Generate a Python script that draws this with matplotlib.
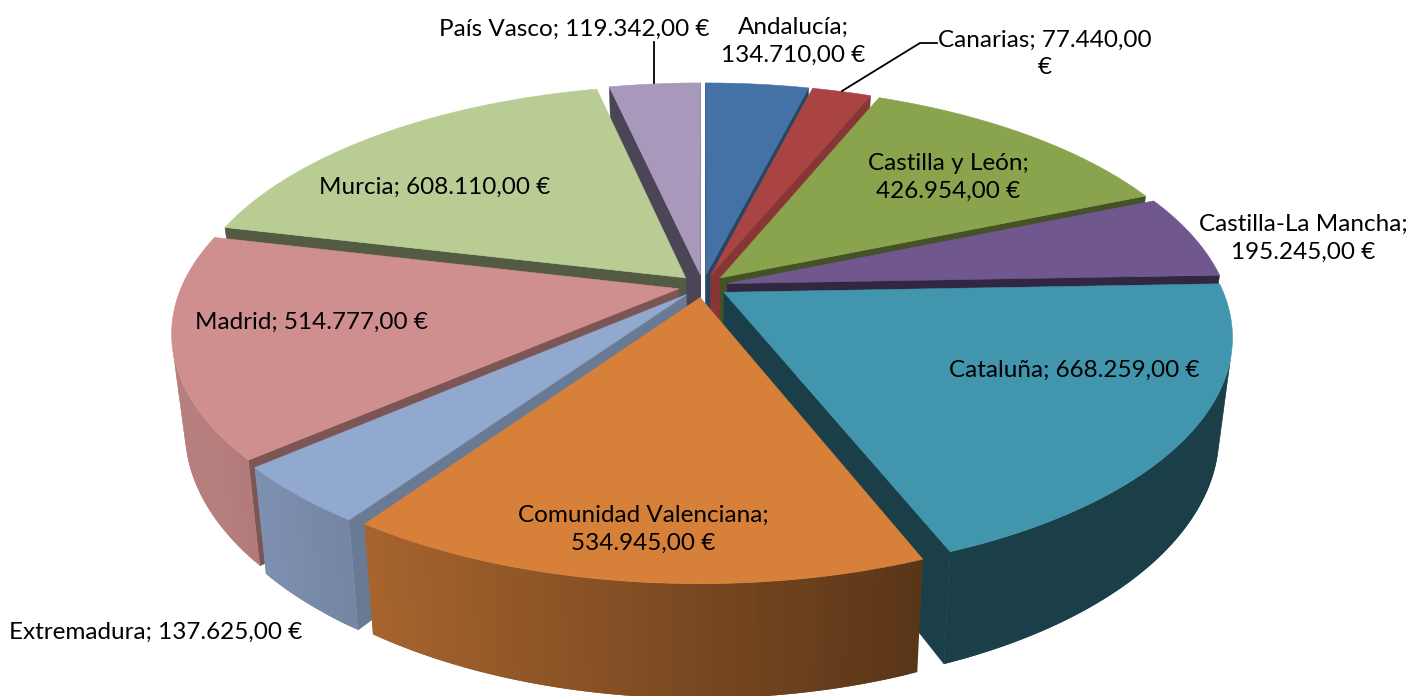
import numpy as np
import matplotlib
matplotlib.use("Agg")
import matplotlib.pyplot as plt
from matplotlib.colors import to_rgb

regions = ["Andalucía", "Canarias", "Castilla y León", "Castilla-La Mancha", "Cataluña",
           "Comunidad Valenciana", "Extremadura", "Madrid", "Murcia", "País Vasco"]
values = [134710, 77440, 426954, 195245, 668259, 534945, 137625, 514777, 608110, 119342]
colors = ["#4472A6", "#A94442", "#89A44D", "#70578E", "#4196AE",
          "#D6803A", "#92A9CF", "#CF8F8E", "#B8CC94", "#A899BC"]
# how dark the cut faces of each slice are
cut_shade = [0.6, 0.8, 0.5, 0.45, 0.42, 0.4, 0.72, 0.6, 0.45, 0.45]

# pixel placement of the labels: centre x, centre y, where the line breaks
label_pos = [(793, 41), (1045, 54), (948, 177), (1303, 238), (1074, 370),
             (643, 529), (156, 632), (311, 322), (435, 187), (574, 29)]
label_wrap = [1, 2, 1, 1, 0, 1, 0, 0, 0, 0]

# paint order, back to front
draw_order = [9, 0, 1, 2, 8, 3, 7, 4, 6, 5]

CX, CY = 703, 286
RX, RY = 497, 230
PERSP = 0.18
DEPTH = 93
TAPER = 0.025
EXPLODE = 0.05

plt.rcParams["font.family"] = ["Lato", "DejaVu Sans"]


def project(x, y, z=0.0):
    w = 1 + PERSP * y
    sx = CX + RX * x / w * (1 - TAPER * z)
    sy = CY - RY * y / w + DEPTH * z / w
    return sx, sy


def signed_area(pts):
    xs = np.array([p[0] for p in pts])
    ys = np.array([p[1] for p in pts])
    return 0.5 * np.sum(xs * np.roll(ys, -1) - np.roll(xs, -1) * ys)


def wall_shade(sx):
    # lit from the left, dark towards the right
    return float(np.clip(0.78 - (sx - 366) * 0.00065, 0.42, 0.88))


def darker(col, f):
    return tuple(c * f for c in to_rgb(col))


def face(ax, pts, col, lw=0.4):
    ax.fill([p[0] for p in pts], [p[1] for p in pts], facecolor=col,
            edgecolor=col if lw else "none", linewidth=lw)


def draw_slice(ax, start, end, col, cut):
    mid = (start + end) / 2
    ox, oy = EXPLODE * np.sin(mid), EXPLODE * np.cos(mid)
    th = np.linspace(start, end, max(int((end - start) * 60), 4))
    px = ox + np.sin(th)
    py = oy + np.cos(th)

    def corner(x, y):
        return project(x, y), project(x, y, 1)

    # radial cut faces
    at, ab = corner(ox, oy)
    st, sb = corner(px[0], py[0])
    et, eb = corner(px[-1], py[-1])
    for quad in ([at, st, sb, ab], [et, at, ab, eb]):
        if signed_area(quad) < 0:
            face(ax, quad, darker(col, cut))

    # outer wall, split up to get the gradient; each strip runs under the next one
    # so no seams show
    n = len(th)
    strips = []
    for i in range(n - 1):
        t1, b1 = corner(px[i], py[i])
        t2, b2 = corner(px[i + 1], py[i + 1])
        if signed_area([t1, t2, b2, b1]) < 0:
            j = min(i + 2, n - 1)
            t3, b3 = corner(px[j], py[j])
            strips.append(([t1, t2, t3, b3, b2, b1], wall_shade((t1[0] + t2[0]) / 2)))
    for quad, shade in strips:
        face(ax, quad, darker(col, shade), lw=0)

    top = [project(ox, oy)] + [project(x, y) for x, y in zip(px, py)]
    face(ax, top, col)


def spanish_money(v):
    return f"{v:,.2f}".replace(",", "#").replace(".", ",").replace("#", ".")


def make_label(name, val, wrap):
    money = spanish_money(val)
    if wrap == 1:
        return f"{name};\n{money} €"
    if wrap == 2:
        return f"{name}; {money}\n€"
    return f"{name}; {money} €"


fig = plt.figure(figsize=(14.12, 6.96), dpi=100)
ax = fig.add_axes([0, 0, 1, 1])
ax.set_xlim(0, 1412)
ax.set_ylim(696, 0)
ax.axis("off")

edges = np.concatenate([[0], np.cumsum(values)]) / sum(values) * 2 * np.pi
for i in draw_order:
    draw_slice(ax, edges[i], edges[i + 1], colors[i], cut_shade[i])

# leader lines
ax.plot([654, 654], [42, 83], color="black", lw=1.3)
ax.plot([937, 920, 842], [43, 43, 91], color="black", lw=1.3)

for name, val, pos, wrap in zip(regions, values, label_pos, label_wrap):
    ax.text(pos[0], pos[1], make_label(name, val, wrap), ha="center", va="center",
            fontsize=17.5, color="black", linespacing=1.4)

fig.savefig("out.png", dpi=100)
